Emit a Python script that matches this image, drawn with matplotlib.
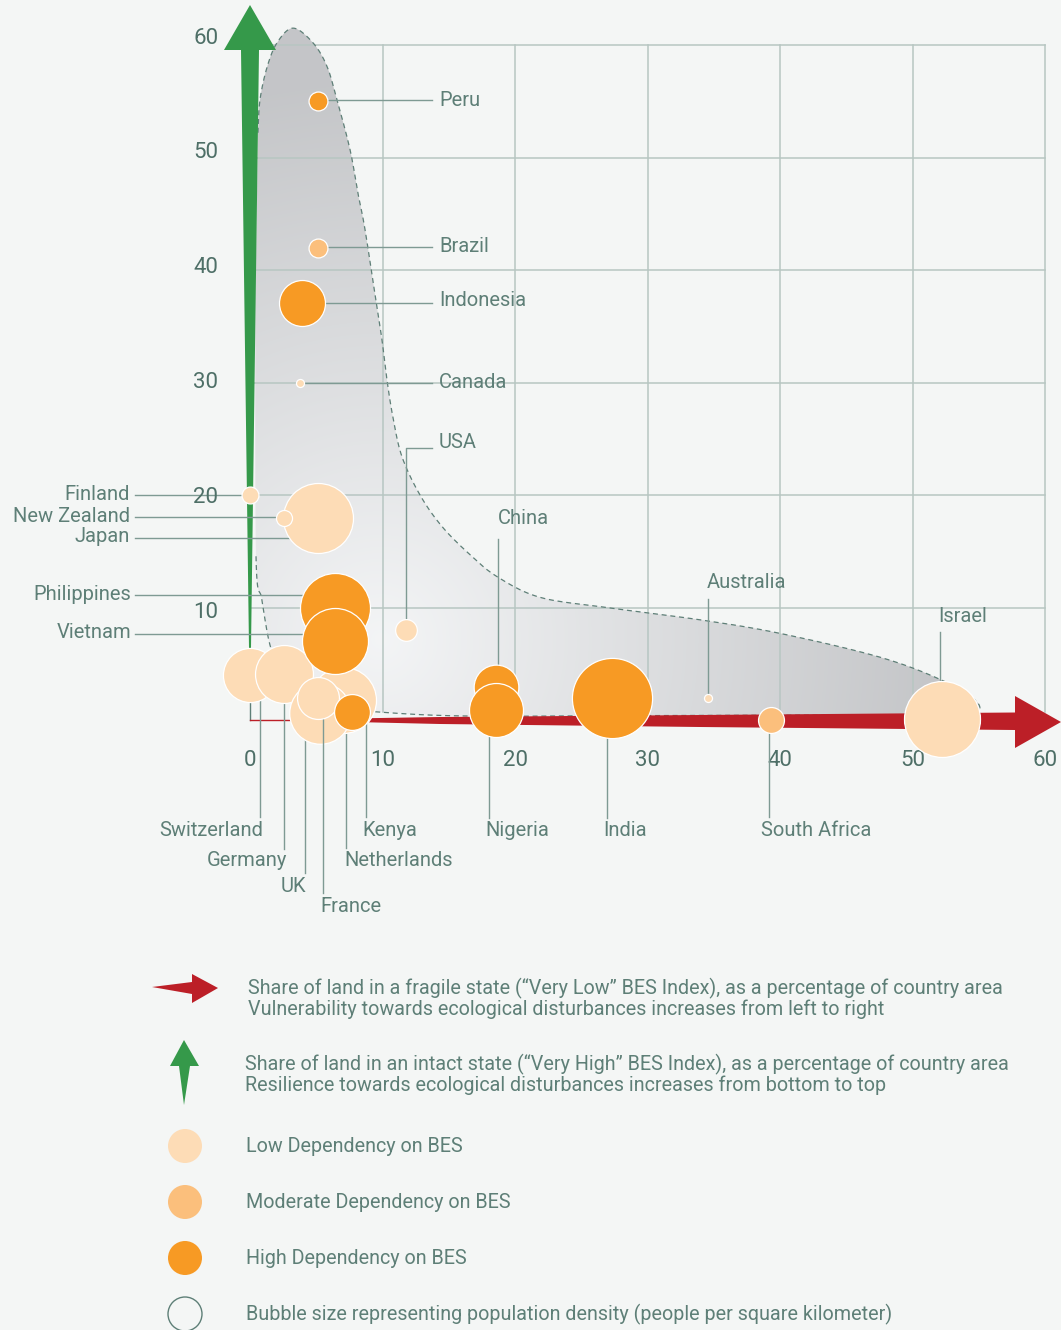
import numpy as np
import matplotlib.pyplot as plt
from matplotlib.patches import Polygon

plt.rcParams['font.family'] = ['Roboto', 'DejaVu Sans']

# ---- data (x: fragile share %, y: intact share %, population density, BES dependency)
countries = ["Switzerland", "Germany", "Netherlands", "UK", "France", "Kenya",
             "Finland", "Japan", "New Zealand", "Philippines", "Vietnam", "USA",
             "Canada", "Indonesia", "Brazil", "Peru", "China", "Nigeria", "India",
             "Australia", "South Africa", "Israel"]
fragile = [0.0, 2.6, 7.0, 5.3, 5.1, 7.7,
           0.0, 5.1, 2.6, 6.4, 6.4, 11.8,
           3.8, 3.9, 5.1, 5.1, 18.6, 18.6, 27.3,
           34.6, 39.3, 52.2]
intact = [4.0, 4.1, 1.8, 0.6, 2.0, 0.7,
          20.0, 18.0, 18.0, 10.0, 7.0, 8.0,
          30.0, 37.1, 42.0, 55.0, 2.9, 0.9, 2.0,
          2.0, 0.0, 0.1]
density = [205, 235, 305, 265, 123, 90,
           20, 343, 18, 343, 305, 33,
           4.5, 148, 25, 25, 140, 204, 450,
           4.5, 47, 404]
dependency = ["low", "low", "low", "low", "low", "high",
              "low", "low", "low", "high", "high", "low",
              "low", "high", "moderate", "high", "high", "high", "high",
              "low", "moderate", "low"]

x_ticks = [0, 10, 20, 30, 40, 50, 60]
y_ticks = [10, 20, 30, 40, 50, 60]

# envelope of the shaded zone (fragile %, intact %)
env_x = [0.6, 0.75, 1.28, 2.04, 3.25, 4.75, 5.81, 6.57, 7.55, 8.15, 8.68, 9.58, 9.96,
         10.34, 10.79, 11.47, 12.83, 14.49, 16.6, 18.7, 21.9, 26.9, 34.0, 40.0, 47.5,
         52.1, 54.7, 54.9, 53.0, 30.0, 16.6, 9.8, 6.0, 3.8, 2.3, 1.5, 0.9, 0.45, 0.4]
env_y = [52.2, 55.1, 58.0, 60.2, 61.5, 60.2, 58.1, 55.1, 50.7, 46.8, 43.6, 36.7, 33.8,
         30.2, 26.9, 23.4, 20.0, 17.2, 14.7, 12.7, 10.9, 10.0, 8.9, 7.7, 5.6,
         3.6, 1.8, 0.7, 0.5, 0.4, 0.35, 0.7, 1.2, 2.2, 4.4, 6.7, 10.7, 14.7, 37.3]

dep_colors = {"low": "#FDDCB6", "moderate": "#FBBF7C", "high": "#F79A24"}
BG = "#F4F6F5"
TXT = "#5E7F77"
TICK = "#4E6F67"
GRID = "#B7C6C2"
LEAD = "#7E9A93"
RED = "#BC1F27"
GREEN = "#35994A"

W, H = 1061, 1330
X0, SX = 250, 13.25   # pixel of x=0, pixels per unit
Y0, SY = 720, 11.25   # pixel of y=0, pixels per unit


def d(px, py):
    return (px - X0) / SX, (Y0 - py) / SY


def rad(dens):
    return np.sqrt(np.asarray(dens) / 0.28)   # bubble radius in pixels


def smooth_outline(xs, ys, n=12):
    # Catmull-Rom through the outline points, in pixel space so the bends look even
    p = np.column_stack([np.asarray(xs) * SX, np.asarray(ys) * SY])
    p = np.vstack([p[0], p, p[-1]])
    out = []
    for k in range(1, len(p) - 2):
        p0, p1, p2, p3 = p[k - 1], p[k], p[k + 1], p[k + 2]
        for s in np.linspace(0, 1, n, endpoint=False):
            out.append(0.5 * (2 * p1 + (-p0 + p2) * s + (2 * p0 - 5 * p1 + 4 * p2 - p3) * s ** 2
                              + (-p0 + 3 * p1 - 3 * p2 + p3) * s ** 3))
    out.append(p[-2])
    out = np.array(out)
    return out[:, 0] / SX, out[:, 1] / SY


fig = plt.figure(figsize=(W / 100, H / 100), dpi=100)
fig.patch.set_facecolor(BG)
ax = fig.add_axes([0, 0, 1, 1])
ax.set_facecolor(BG)
ax.axis('off')

# shaded zone with gradient
sx, sy = smooth_outline(env_x, env_y)
gx = np.linspace(-1, 57, 500)
gy = np.linspace(-1, 63, 500)
GX, GY = np.meshgrid(gx, gy)
cx, cy = d(380, 640)
dist = np.hypot((GX - cx) * SX, (GY - cy) * SY)
t = np.clip(dist / 560, 0, 1)[..., None]
light = np.array([0.955, 0.96, 0.965])
dark = np.array([0.77, 0.775, 0.785])
img = light * (1 - t) + dark * t
im = ax.imshow(img, extent=(gx[0], gx[-1], gy[0], gy[-1]), origin='lower',
               aspect='auto', zorder=1, interpolation='bilinear')
env = Polygon(np.column_stack([sx, sy]), closed=True, facecolor='none', edgecolor='none')
ax.add_patch(env)
im.set_clip_path(env)
cut = len(sx) - 12
ax.plot(sx[:cut], sy[:cut], ls=(0, (4, 3)), color="#5E7F77", lw=0.9, zorder=3)

# grid
for v in y_ticks:
    ax.plot([0, 60], [v, v], color=GRID, lw=1.1, zorder=2)
for v in x_ticks[1:]:
    ax.plot([v, v], [0.7, 60], color=GRID, lw=1.1, zorder=2)

# axis arrows
green_pts = [d(250, 5), d(276, 50), d(259, 50), d(251, 648), d(249, 648), d(241, 50), d(224, 50)]
ax.add_patch(Polygon(green_pts, closed=True, facecolor=GREEN, edgecolor='none', zorder=4))
red_pts = [d(290, 719.5), d(440, 717), d(700, 715), d(1015, 712.5), d(1015, 696),
           d(1061, 722), d(1015, 748), d(1015, 730), d(700, 727), d(440, 724), d(290, 720.5)]
ax.add_patch(Polygon(red_pts, closed=True, facecolor=RED, edgecolor='none', zorder=4))
ax.plot(*zip(d(250, 700), d(250, 720)), color=TXT, lw=1, zorder=4)
ax.plot(*zip(d(250, 720), d(292, 720)), color=RED, lw=1, zorder=4)

# tick labels
for v in y_ticks:
    ax.text(d(206, 0)[0], 9.6 + (v - 10) * 1.02, str(v), ha='center', va='center',
            fontsize=16, color=TICK, zorder=20)
for v in x_ticks:
    ax.text(v, d(0, 760)[1], str(v), ha='center', va='center', fontsize=16,
            color=TICK, zorder=20)

# label layout in pixels: text x, text y, ha, leader kind, leader pos, leader end
layout = {
    "Peru": (439, 100, "left", "h", 100, 432),
    "Brazil": (439, 247, "left", "h", 247, 432),
    "Indonesia": (439, 300, "left", "h", 303, 432),
    "Canada": (439, 382, "left", "h", 383, 432),
    "USA": (439, 443, "left", "elbow", 448, 432),
    "Finland": (130, 495, "right", "h", 495, 135),
    "New Zealand": (130, 517, "right", "h", 517, 135),
    "Japan": (130, 537, "right", "h", 538, 135),
    "Philippines": (131, 594, "right", "h", 595, 135),
    "Vietnam": (131, 633, "right", "h", 634, 135),
    "China": (498, 519, "left", "v", 498, 539),
    "Australia": (707, 582, "left", "v", 708, 599),
    "Israel": (938, 616, "left", "v", 940, 632),
    "Switzerland": (263, 831, "right", "v", 260, 817),
    "Germany": (287, 860, "right", "v", 284, 849),
    "UK": (306, 886, "right", "v", 305, 873),
    "France": (320, 906, "left", "v", 323, 893),
    "Netherlands": (344, 860, "left", "v", 346, 848),
    "Kenya": (362, 831, "left", "v", 366, 817),
    "Nigeria": (485, 831, "left", "v", 489, 818),
    "India": (603, 831, "left", "v", 607, 818),
    "South Africa": (761, 831, "left", "v", 769, 817),
}

radii = rad(density)
for i, name in enumerate(countries):
    x, y = fragile[i], intact[i]
    z = 10 + i
    ax.scatter([x], [y], s=(2 * radii[i] * 0.72) ** 2, color=dep_colors[dependency[i]],
               edgecolors='white', linewidths=0.9, zorder=z)
    tx, ty, ha, kind, lp, le = layout[name]
    if kind == "h":
        ax.plot([x, d(le, 0)[0]], [d(0, lp)[1]] * 2, color=LEAD, lw=1, zorder=z - 0.5)
    elif kind == "v":
        ax.plot([d(lp, 0)[0]] * 2, [y, d(0, le)[1]], color=LEAD, lw=1, zorder=z - 0.5)
    else:
        ax.plot([x, x, d(le, 0)[0]], [y, d(0, lp)[1], d(0, lp)[1]], color=LEAD, lw=1,
                zorder=z - 0.5)
    ax.text(*d(tx, ty), name, ha=ha, va='center', fontsize=14.5, color=TXT, zorder=40)

# legend
leg_red = [d(152, 987), d(192, 982), d(192, 974), d(218, 988), d(192, 1003), d(192, 994)]
ax.add_patch(Polygon(leg_red, closed=True, facecolor=RED, edgecolor='none'))
leg_green = [d(184, 1040), d(199, 1066), d(190, 1066), d(184, 1105), d(179, 1066), d(170, 1066)]
ax.add_patch(Polygon(leg_green, closed=True, facecolor=GREEN, edgecolor='none'))

legend_lines = [
    (248, 988, "Share of land in a fragile state (\u201cVery Low\u201d BES Index), as a percentage of country area"),
    (248, 1009, "Vulnerability towards ecological disturbances increases from left to right"),
    (245, 1064, "Share of land in an intact state (\u201cVery High\u201d BES Index), as a percentage of country area"),
    (245, 1085, "Resilience towards ecological disturbances increases from bottom to top"),
    (246, 1146, "Low Dependency on BES"),
    (246, 1202, "Moderate Dependency on BES"),
    (246, 1258, "High Dependency on BES"),
    (246, 1314, "Bubble size representing population density (people per square kilometer)"),
]
for lx, ly, s in legend_lines:
    ax.text(*d(lx, ly), s, ha='left', va='center', fontsize=14.2, color=TXT)

leg_size = (2 * 17 * 0.72) ** 2
for ly, key in zip([1146, 1202, 1258], ["low", "moderate", "high"]):
    ax.scatter(*d(185, ly), s=leg_size, color=dep_colors[key], edgecolors='none')
ax.scatter(*d(185, 1314), s=leg_size, facecolors='none', edgecolors=TXT, linewidths=1)

ax.set_xlim(d(0, 0)[0], d(W, 0)[0])
ax.set_ylim(d(0, H)[1], d(0, 0)[1])
fig.savefig("out.png", dpi=100, facecolor=BG)
